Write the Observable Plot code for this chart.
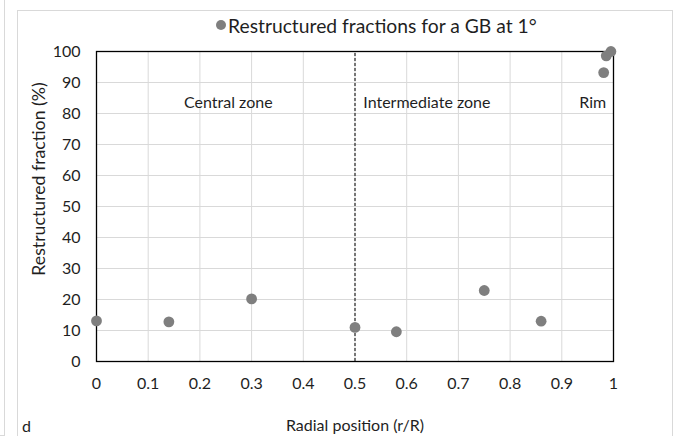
<!DOCTYPE html>
<html>
<head>
<meta charset="utf-8">
<script src="https://cdn.jsdelivr.net/npm/d3@7"></script>
<script src="https://cdn.jsdelivr.net/npm/@observablehq/plot@0.6"></script>
<style>
  html, body { margin: 0; padding: 0; background: #fff; }
  body { width: 675px; height: 436px; position: relative; overflow: hidden; font-family: Lato, "Open Sans", sans-serif; color: #1f1f1f; }
  #neighbor { position: absolute; left: -10px; top: -10px; width: 13px; height: 444px; border: 1px solid #d9d9d9; }
  #frame { position: absolute; left: 17px; top: 10px; width: 654px; height: 440px; border: 1px solid #d9d9d9; }
  #legend { position: absolute; left: 216px; top: 13px; height: 24px; display: flex; align-items: center; font-size: 19.3px; white-space: nowrap; }
  #legend .dot { width: 10px; height: 10px; border-radius: 50%; background: #7f7f7f; margin-right: 2px; }
  #chart { position: absolute; left: 0; top: 36px; }
  #panel { position: absolute; left: 22px; top: 416px; font-size: 16px; }
  #ylabel { position: absolute; left: 38px; top: 179px; transform: translate(-50%, -50%) rotate(-90deg); font-size: 17.7px; white-space: nowrap; }
</style>
</head>
<body>
<div id="neighbor"></div>
<div id="frame"></div>
<div id="legend"><span class="dot"></span><span id="legendText"></span></div>
<div id="chart"></div>
<div id="ylabel"></div>
<div id="panel">d</div>
<script>
const seriesName = "Restructured fractions for a GB at 1°";
const radial = [0, 0.14, 0.3, 0.5, 0.58, 0.75, 0.86, 0.981, 0.986, 0.995];
const fraction = [13.1, 12.8, 20.2, 11.0, 9.6, 22.9, 13.0, 93.2, 98.6, 100];
const xTicks = [0, 0.1, 0.2, 0.3, 0.4, 0.5, 0.6, 0.7, 0.8, 0.9, 1];
const yTicks = [0, 10, 20, 30, 40, 50, 60, 70, 80, 90, 100];
const zoneLabels = ["Central zone", "Intermediate zone", "Rim"];
const zoneX = [0.255, 0.639, 0.986];
const zoneY = [83.5, 83.5, 83.5];
const zoneAnchor = ["middle", "middle", "end"];
const boundaryX = [0.5];
const xLabel = "Radial position (r/R)";
const yLabel = "Restructured fraction (%)";

document.getElementById("legendText").textContent = seriesName;
document.getElementById("ylabel").textContent = yLabel;

const points = radial.map((r, i) => ({r, f: fraction[i]}));
const zones = zoneLabels.map((t, i) => ({t, x: zoneX[i], y: zoneY[i], a: zoneAnchor[i]}));

const chart = Plot.plot({
  width: 675,
  height: 400,
  marginLeft: 96,
  marginRight: 62,
  marginTop: 15,
  marginBottom: 75,
  style: {fontFamily: "Lato, 'Open Sans', sans-serif", fontSize: "16px", color: "#1f1f1f", background: "transparent"},
  x: {domain: [0, 1]},
  y: {domain: [0, 100]},
  marks: [
    Plot.gridX(xTicks, {stroke: "#d9d9d9", strokeOpacity: 1}),
    Plot.gridY(yTicks, {stroke: "#d9d9d9", strokeOpacity: 1}),
    Plot.axisX({ticks: xTicks, tickFormat: d => String(d), tickSize: 0, tickPadding: 16, fontSize: 16, label: xLabel, labelAnchor: "center", labelArrow: "none", labelOffset: 69}),
    Plot.axisY({ticks: yTicks, tickFormat: d => String(d), tickSize: 0, tickPadding: 16, fontSize: 16, label: null}),
    Plot.frame({stroke: "#000", strokeWidth: 1.3}),
    Plot.ruleX(boundaryX, {y1: 0, y2: 100, stroke: "#000", strokeWidth: 1, strokeDasharray: "3,2"}),
    Plot.text(zones.filter(z => z.a === "middle"), {x: "x", y: "y", text: "t", textAnchor: "middle", fontSize: 16, fill: "#1f1f1f"}),
    Plot.text(zones.filter(z => z.a === "end"), {x: "x", y: "y", text: "t", textAnchor: "end", fontSize: 16, fill: "#1f1f1f"}),
    Plot.dot(points, {x: "r", y: "f", r: 5.4, fill: "#7f7f7f", stroke: "none"})
  ]
});
document.getElementById("chart").appendChild(chart);
</script>
</body>
</html>
